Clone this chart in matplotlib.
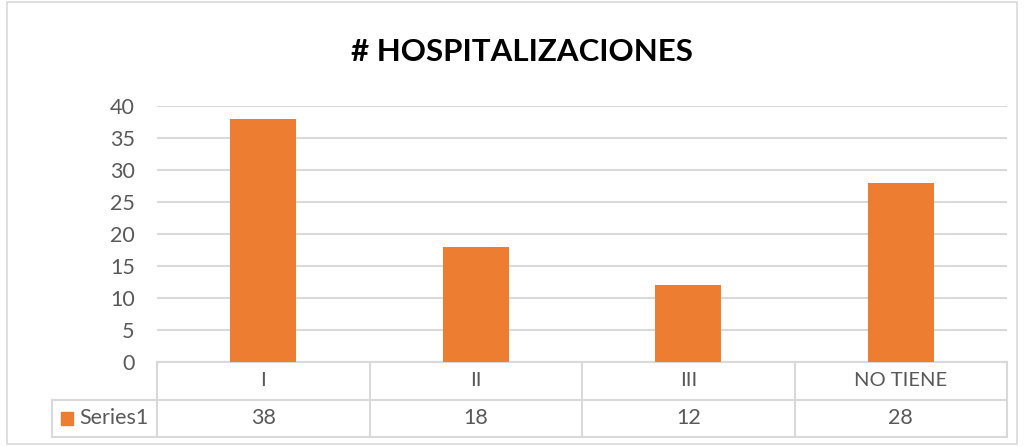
import matplotlib.pyplot as plt
from matplotlib.patches import Rectangle

categories = ["I", "II", "III", "NO TIENE"]
values = [38, 18, 12, 28]
series_name = "Series1"
yticks = [0, 5, 10, 15, 20, 25, 30, 35, 40]

orange = "#ED7D31"
grid_c = "#D9D9D9"
text_c = "#595959"
plt.rcParams["font.family"] = ["Lato", "DejaVu Sans"]

W, H = 1024, 446
fig = plt.figure(figsize=(W / 100, H / 100), dpi=100)

# outer chart border
fig.patches.append(Rectangle((7 / W, 2 / H), 1010 / W, 442 / H, transform=fig.transFigure,
                             fill=False, edgecolor=grid_c, lw=1.2))

ax = fig.add_axes([157 / W, (H - 362) / H, 850 / W, 256 / H])
x = range(len(categories))
ax.bar(x, values, width=0.31, color=orange, zorder=3)
ax.set_xlim(-0.5, len(categories) - 0.5)
ax.set_ylim(0, 40)
ax.set_yticks(yticks)
ax.set_yticklabels([str(t) for t in yticks], fontsize=15.5, color=text_c)
ax.tick_params(axis="y", length=0, pad=16)
ax.set_xticks([])
ax.yaxis.grid(True, color=grid_c, lw=1.5, zorder=0)
for s in ax.spines.values():
    s.set_visible(False)

fig.text(522 / W, 1 - 52 / H, "# HOSPITALIZACIONES", ha="center", va="center",
         fontsize=22.5, fontweight="bold", color="black")

# data table below the axis
tr = ax.get_xaxis_transform()
r1 = -37.5 / 256
r2 = -75 / 256
leg_x = (52 - 157) / 212.5 - 0.5
n = len(categories)
kw = dict(color=grid_c, lw=1.5, transform=tr, clip_on=False)
ax.plot([-0.5, n - 0.5], [0, 0], **kw)
ax.plot([leg_x, n - 0.5], [r1, r1], **kw)
ax.plot([leg_x, n - 0.5], [r2, r2], **kw)
for i in range(n + 1):
    ax.plot([i - 0.5, i - 0.5], [0, r2], **kw)
ax.plot([leg_x, leg_x], [r1, r2], **kw)

fs = 14.5
for i, (c, v) in enumerate(zip(categories, values)):
    ax.text(i, r1 / 2, c, transform=tr, ha="center", va="center", fontsize=fs, color=text_c)
    ax.text(i, (r1 + r2) / 2, str(v), transform=tr, ha="center", va="center", fontsize=fs + 1, color=text_c)

# legend key in table
key_x = (61 - 157) / 212.5 - 0.5
ax.add_patch(Rectangle((key_x, (r1 + r2) / 2 - 6.5 / 256), 12 / 212.5, 13 / 256,
                       transform=tr, color=orange, clip_on=False))
ax.text((79 - 157) / 212.5 - 0.5, (r1 + r2) / 2, series_name, transform=tr,
        ha="left", va="center", fontsize=fs + 1, color=text_c)

fig.savefig("out.png", dpi=100)
